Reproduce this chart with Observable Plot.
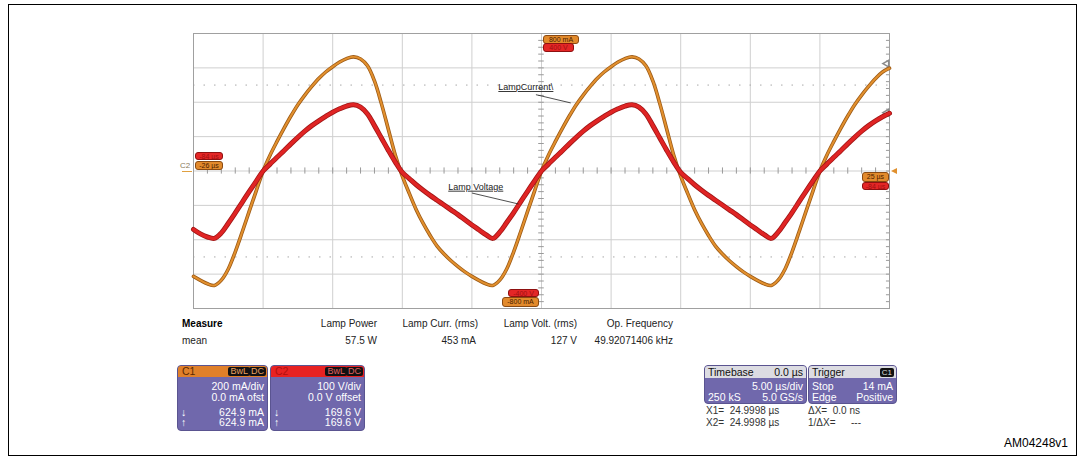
<!DOCTYPE html>
<html>
<head>
<meta charset="utf-8">
<script src="https://cdn.jsdelivr.net/npm/d3@7"></script>
<script src="https://cdn.jsdelivr.net/npm/@observablehq/plot@0.6"></script>
<style>
  body { margin:0; background:#fff; font-family:"Liberation Sans", Arial, sans-serif; }
  #wrap { position:relative; width:1084px; height:461px; overflow:hidden; }
  #chart { position:absolute; left:0; top:0; }
  .abs { position:absolute; white-space:nowrap; }
  .badge { position:absolute; border-radius:3px; font-size:7px; line-height:7px; text-align:center; overflow:hidden; }
  .bo { background:#e28a2c; border:1px solid #8a4a12; color:#4a2000; }
  .br { background:#e42626; border:1px solid #8e1010; color:#a01010; }
  .meas { position:absolute; font-size:10px; line-height:12px; color:#222; white-space:nowrap; }
  .box { position:absolute; border-radius:4px; overflow:hidden; background:#7068ac; border:1px solid #5a5490; }
  .hdr { position:absolute; left:0; right:0; top:0; height:11px; }
  .bt { position:absolute; color:#fff; font-size:10.5px; line-height:11px; white-space:nowrap; }
  .ht { position:absolute; font-size:10.5px; line-height:11px; white-space:nowrap; }
  .blk { position:absolute; background:#111; border-radius:2px; font-size:9px; line-height:9px; padding:0 2px; top:1px; }
  .cur { position:absolute; font-size:10px; line-height:12px; color:#333; white-space:nowrap; }
</style>
</head>
<body>
<div id="wrap">
  <div id="chart"></div>
</div>
<script>
// ---- Data (oscilloscope traces) ----
// sample times in µs (5 µs/div, 10 divisions)
const timeUs = d3.range(0, 50.0001, 0.5);
// C1 lamp current, mA (200 mA/div)
const lampCurrent = [
  -613,-636,-656,-666,-635,-570,-470,-355,-235,-117,0,
  92,172,248,320,386,442,492,538,576,607,634,654,664,652,612,524,392,242,92,-30,-130,-225,-305,-375,-437,-483,-522,-556,-587,-613,-636,-656,-666,-635,-570,-470,-355,-235,-117,0,
  92,172,248,320,386,442,492,538,576,607,634,654,664,652,612,524,392,242,92,-30,-130,-225,-305,-375,-437,-483,-522,-556,-587,-613,-636,-656,-666,-635,-570,-470,-355,-235,-117,0,
  92,172,248,320,386,442,492,538,576,598
];
// C2 lamp voltage, V (100 V/div)
const lampVoltage = [
  -170,-183,-192,-196,-180,-152,-122,-91,-60,-30,0,
  20,40,59,79,98,116,132,146,159,171,181,189,193,186,166,132,96,60,26,-4,-22,-40,-56,-71,-85,-99,-113,-127,-142,-157,-171,-185,-196,-178,-150,-121,-90,-59,-29,0,
  20,40,59,79,98,116,132,146,159,171,181,189,193,186,166,132,96,60,26,-4,-22,-40,-56,-71,-85,-99,-113,-127,-142,-157,-171,-185,-196,-178,-150,-121,-90,-59,-29,0,
  20,40,59,79,98,116,132,146,158,168
];
const mAPerDiv = 200, vPerDiv = 100;
// grid divisions
const xDivs = [0,5,10,15,20,25,30,35,40,45,50];
const yDivs = [-4,-3,-2,-1,0,1,2,3,4];
const cursorLevels = [2.5, -2.5];
const cursorMarks = [624.9 / mAPerDiv, 169.6 / vPerDiv];
const minorX = d3.range(0, 50.0001, 1);
const minorY = d3.range(-4, 4.0001, 0.2);

// measurement table
const measureHeaders = ["Lamp Power", "Lamp Curr. (rms)", "Lamp Volt. (rms)", "Op. Frequency"];
const measureMeans = ["57.5 W", "453 mA", "127 V", "49.92071406 kHz"];

// annotations
const annotations = [
  {label: "LampCurrent\\", t: 21.9, d: 2.44, t2: 24.6, d2: 2.22, t3: 27.1, d3: 1.98},
  {label: "Lamp Voltage", t: 18.3, d: -0.46, t2: 20.0, d2: -0.64, t3: 23.35, d3: -0.96}
];

const samples = timeUs.map((t, i) => ({t, i: lampCurrent[i], v: lampVoltage[i]}));

const plot = Plot.plot({
  width: 1084, height: 461,
  marginLeft: 193, marginRight: 195, marginTop: 33, marginBottom: 153,
  x: {domain: [0, 50], axis: null},
  y: {domain: [-4, 4], axis: null},
  style: {background: "transparent", fontFamily: "Liberation Sans, Arial, sans-serif"},
  marks: [
    Plot.ruleX(xDivs, {stroke: "#cfcfcf", strokeWidth: 1}),
    Plot.ruleY(yDivs, {stroke: "#cfcfcf", strokeWidth: 1}),
    Plot.ruleY(cursorLevels, {stroke: "#a8a8a8", strokeDasharray: "1.5,9"}),
    Plot.ruleX(minorX, {y1: -0.09, y2: 0.09, stroke: "#9a9a9a"}),
    Plot.ruleY(minorY, {x1: 24.8, x2: 25.2, stroke: "#9a9a9a"}),
    Plot.ruleY(minorY, {x1: 49.78, x2: 50, stroke: "#9a9a9a"}),
    Plot.frame({stroke: "#a0a0a0"}),
    Plot.dot(cursorMarks, {x: 49.8, y: d => d, symbol: "triangle", rotate: -90, r: 2.5, stroke: "#8a8a8a", fill: "white"}),
    // current trace (C1, orange)
    Plot.line(samples, {x: "t", y: d => d.i / mAPerDiv, stroke: "#9c5a16", strokeWidth: 3.6, curve: "catmull-rom"}),
    Plot.line(samples, {x: "t", y: d => d.i / mAPerDiv, stroke: "#e2902e", strokeWidth: 2, curve: "catmull-rom"}),
    // voltage trace (C2, red)
    Plot.line(samples, {x: "t", y: d => d.v / vPerDiv, stroke: "#a01616", strokeWidth: 5, curve: "catmull-rom"}),
    Plot.line(samples, {x: "t", y: d => d.v / vPerDiv, stroke: "#e02424", strokeWidth: 3.4, curve: "catmull-rom"}),
    // annotation leaders and labels
    Plot.link(annotations, {x1: "t2", y1: "d2", x2: "t3", y2: "d3", stroke: "#222", strokeWidth: 0.8}),
    Plot.text(annotations, {x: "t", y: "d", text: "label", textAnchor: "start", fontSize: 9, fill: "#222"})
  ]
});
document.getElementById("chart").appendChild(plot);
d3.select(plot).selectAll("g[aria-label=text] text").attr("text-decoration", "underline");

const wrap = document.getElementById("wrap");
function add(html) { wrap.insertAdjacentHTML("beforeend", html); }

// outer border
add(`<div class="abs" style="left:8px;top:4px;width:1067px;height:450px;border:1px solid #000;"></div>`);

// channel marker badges
function badge(l, t, w, h, cls, txt) {
  add(`<div class="badge ${cls}" style="left:${l}px;top:${t}px;width:${w}px;height:${h}px;">${txt}</div>`);
}
badge(195, 152, 26, 6, "br", "-84 µs");
badge(195, 161, 26, 7, "bo", "-26 µs");
add(`<div class="abs" style="left:180px;top:161px;font-size:8px;color:#8a7a5a;">C2</div>`);
add(`<div class="abs" style="left:182px;top:171px;width:10px;height:1px;background:#e0a040;"></div>`);
badge(543, 35, 34, 7, "bo", "800 mA");
badge(543, 43, 29, 7, "br", "400 V");
badge(508, 289, 29, 6, "br", "-400 V");
badge(502, 297, 35, 8, "bo", "-800 mA");
badge(862, 172, 25, 8, "bo", "25 µs");
badge(862, 182, 25, 6, "br", "-84 µs");
add(`<div class="abs" style="left:891px;top:168px;width:0;height:0;border-top:3px solid transparent;border-bottom:3px solid transparent;border-right:6px solid #e0902e;"></div>`);

// measurement table
const colRight = [377, 478, 577, 673];
add(`<div class="meas" style="left:182px;top:318px;font-weight:bold;color:#000;">Measure</div>`);
add(`<div class="meas" style="left:182px;top:335px;">mean</div>`);
measureHeaders.forEach((h, k) => add(`<div class="meas" style="right:${1084 - colRight[k]}px;top:318px;">${h}</div>`));
measureMeans.forEach((h, k) => add(`<div class="meas" style="right:${1084 - colRight[k] + (k === 1 ? 2 : 0)}px;top:335px;">${h}</div>`));

// channel boxes
function chanBox(l, w, color, name, nameColor, blkColor, lines) {
  let s = `<div class="box" style="left:${l}px;top:365px;width:${w}px;height:64px;">`;
  s += `<div class="hdr" style="background:${color};"></div>`;
  s += `<div class="ht" style="left:4px;top:0px;color:${nameColor};">${name}</div>`;
  s += `<div class="blk" style="right:17px;color:${blkColor};">BwL</div>`;
  s += `<div class="blk" style="right:1px;color:${blkColor};">DC</div>`;
  const tops = [15, 26, 41, 51];
  lines.forEach((ln, k) => {
    s += `<div class="bt" style="right:3px;top:${tops[k]}px;">${ln}</div>`;
  });
  s += `<div class="bt" style="left:3px;top:41px;">↓</div><div class="bt" style="left:3px;top:51px;">↑</div>`;
  s += `</div>`;
  add(s);
}
chanBox(177, 89, "#e0802a", "C1", "#5a2800", "#e8a060", ["200 mA/div", "0.0 mA ofst", "624.9 mA", "624.9 mA"]);
chanBox(270, 93, "#e82222", "C2", "#b01010", "#e06060", ["100 V/div", "0.0 V offset", "169.6 V", "169.6 V"]);

// timebase & trigger
function infoBox(l, w, title, right, rightBadge, rows) {
  let s = `<div class="box" style="left:${l}px;top:365px;width:${w}px;height:37px;">`;
  s += `<div class="hdr" style="background:#dcdce2;height:12px;"></div>`;
  s += `<div class="ht" style="left:3px;top:1px;color:#111;">${title}</div>`;
  if (rightBadge) s += `<div class="blk" style="right:2px;top:2px;color:#ddd;font-size:8px;">${right}</div>`;
  else s += `<div class="ht" style="right:3px;top:1px;color:#111;">${right}</div>`;
  rows.forEach((r, k) => {
    const top = 15 + k * 11;
    if (r[0]) s += `<div class="bt" style="left:3px;top:${top}px;">${r[0]}</div>`;
    s += `<div class="bt" style="right:3px;top:${top}px;">${r[1]}</div>`;
  });
  s += `</div>`;
  add(s);
}
infoBox(704, 101, "Timebase", "0.0 µs", false, [["", "5.00 µs/div"], ["250 kS", "5.0 GS/s"]]);
infoBox(808, 87, "Trigger", "C1", true, [["Stop", "14 mA"], ["Edge", "Positive"]]);

add(`<div class="cur" style="left:706px;top:405px;">X1=&nbsp; 24.9998 µs</div>`);
add(`<div class="cur" style="left:808px;top:405px;">ΔX=&nbsp; 0.0 ns</div>`);
add(`<div class="cur" style="left:706px;top:417px;">X2=&nbsp; 24.9998 µs</div>`);
add(`<div class="cur" style="left:808px;top:417px;">1/ΔX=</div>`);
add(`<div class="cur" style="left:851px;top:417px;">---</div>`);

// figure ID
add(`<div class="abs" style="right:16px;top:436px;font-size:12px;color:#000;">AM04248v1</div>`);
</script>
</body>
</html>
